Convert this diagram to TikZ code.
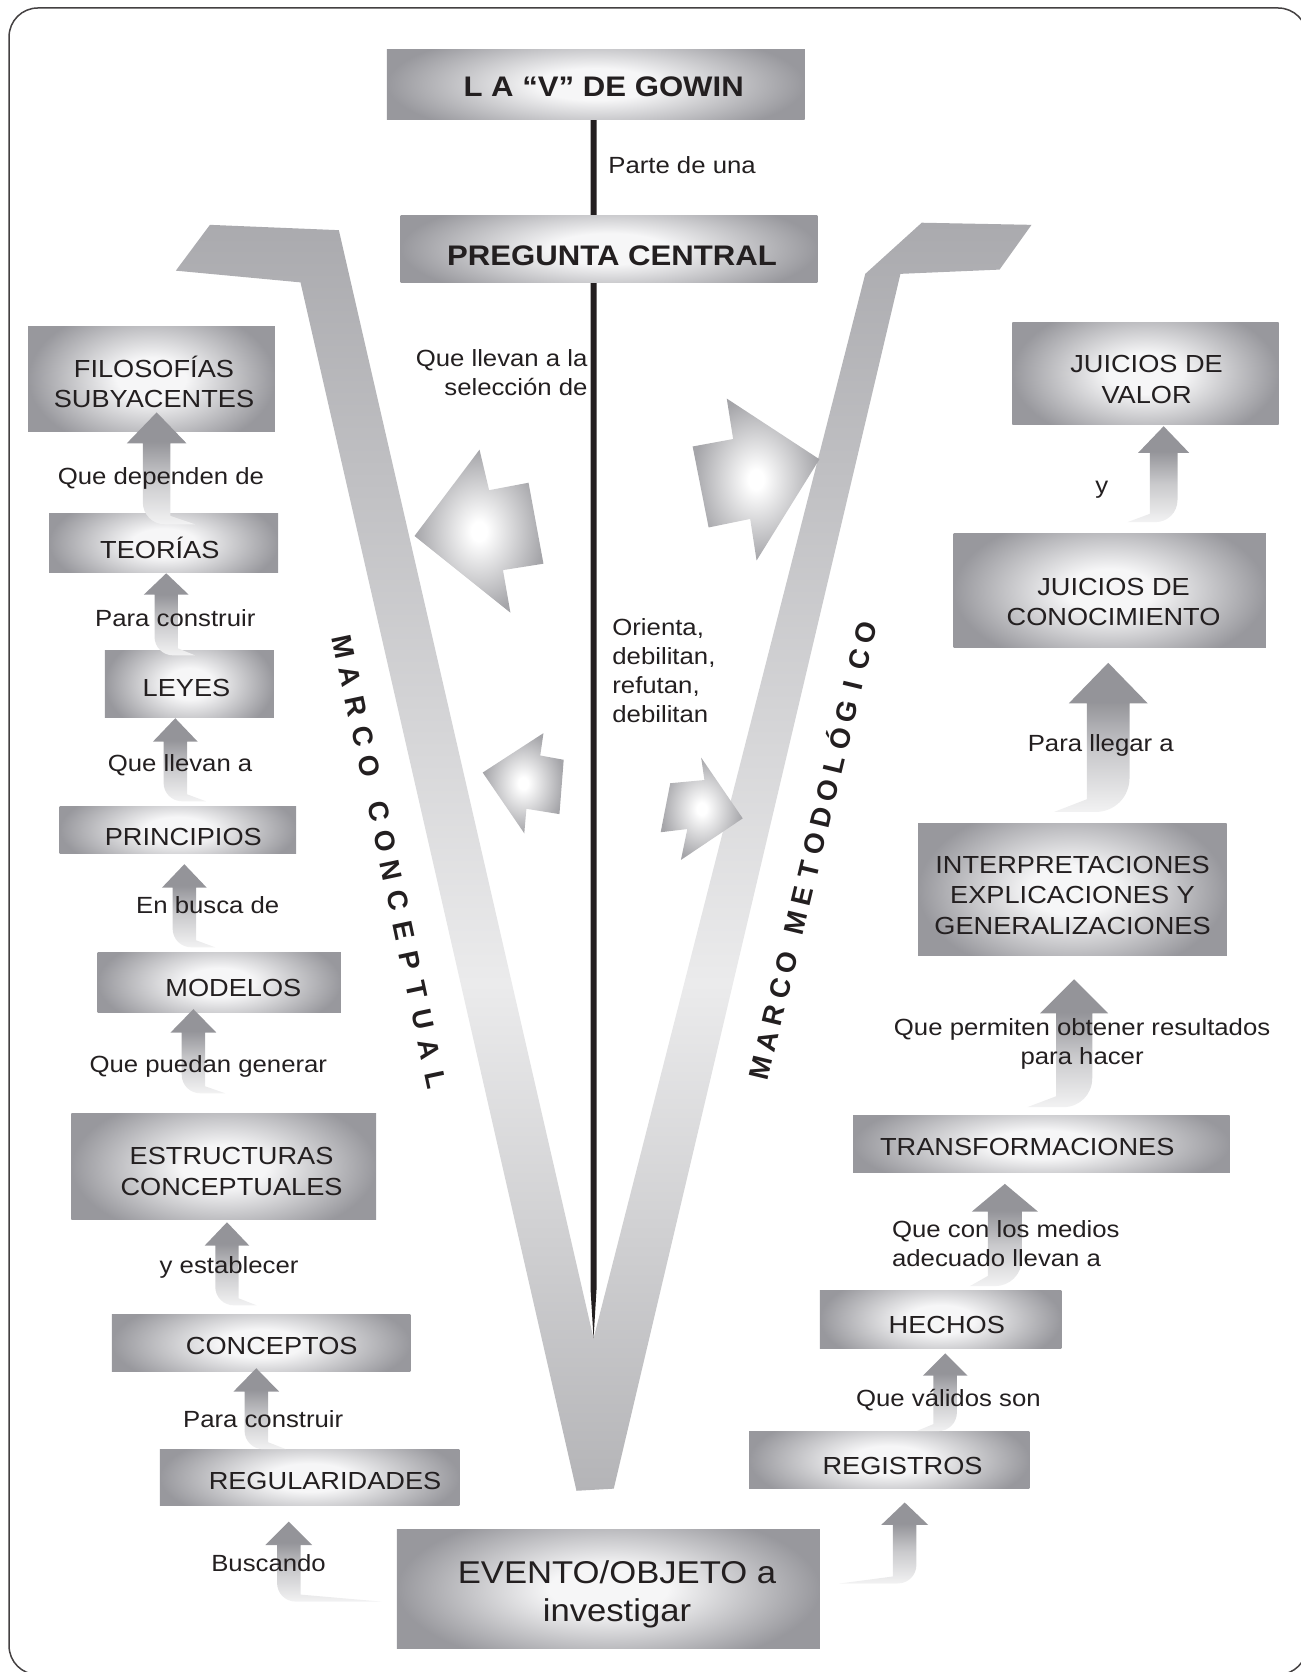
\documentclass[tikz,border=0pt]{standalone}
\usepackage{fontspec}
\setmainfont{Liberation Sans}[FakeStretch=1.1]
\newfontfamily\mfont{Liberation Sans}
\usetikzlibrary{calc}
\definecolor{ink}{RGB}{35,31,32}
\definecolor{boxgray}{RGB}{152,152,157}
\definecolor{boxlight}{RGB}{246,246,247}
\definecolor{arrgray}{RGB}{148,148,153}
\definecolor{vgray}{RGB}{170,170,174}
\definecolor{vgrayb}{RGB}{180,180,183}
\definecolor{vlight}{RGB}{235,235,236}
\definecolor{bigedge}{RGB}{165,165,169}
\pgfdeclareradialshading{boxshade}{\pgfpointorigin}{color(0bp)=(boxlight); color(7bp)=(boxlight); color(25bp)=(boxgray); color(50bp)=(boxgray)}
\pgfdeclareradialshading{bigshade}{\pgfpointorigin}{color(0bp)=(white); color(3bp)=(white); color(25bp)=(bigedge); color(50bp)=(bigedge)}
\pgfdeclareverticalshading{jshade}{100bp}{color(0bp)=(white); color(25bp)=(arrgray!12!white); color(45bp)=(arrgray!50!white); color(62bp)=(arrgray); color(100bp)=(arrgray)}
\pgfdeclareverticalshading{vshade}{100bp}{color(0bp)=(vgrayb); color(25bp)=(vgrayb); color(45bp)=(vlight); color(75bp)=(vgray); color(100bp)=(vgray)}
\newcommand\uu{1.0656pt}
\newcommand\mlc[1]{\begin{tabular}[t]{@{}c@{}}#1\end{tabular}}
\newcommand\mll[1]{\begin{tabular}[t]{@{}l@{}}#1\end{tabular}}
\newcommand\mlr[1]{\begin{tabular}[t]{@{}r@{}}#1\end{tabular}}
\tikzset{
 gbox/.style={inner sep=0pt, outer sep=0pt, fill=boxgray,
   path picture={\shade[shading=boxshade] ([yshift=-22pt]path picture bounding box.south west) rectangle ([yshift=22pt]path picture bounding box.north east);}},
 lbl/.style={font=\fontsize{23.4}{29}\selectfont, text=ink, inner sep=0pt, anchor=base},
 btx/.style={font=\fontsize{24.7}{30.5}\selectfont, text=ink, inner sep=0pt, anchor=base},
 ttl/.style={font=\fontsize{28.3}{34}\selectfont\bfseries, text=ink, inner sep=0pt, anchor=base},
 evt/.style={font=\fontsize{31.5}{38.8}\selectfont, text=ink, inner sep=0pt, anchor=base},
 marco/.style={font=\mfont\bfseries\fontsize{28}{28}\selectfont, text=ink, inner sep=0pt, text height=20pt, text depth=0pt},
}
\newcommand\gbox[5]{\node[gbox, minimum width={(#4-#2)*1.0656pt}, minimum height={(#5-#3)*1.0656pt}] (#1) at ({(#2+#4)/2},{(#3+#5)/2}) {};}
% J-shaped shaded arrow: #1 head coord, #2 tail coord, #3 dir, #4 head half width, #5 head length, #6 shaft half width, #7 tail length
\newcommand\jarr[7]{%
 \shade[shading=jshade] let \p1=(#1), \p2=(#2) in
  ({\x1},{\y1}) -- ({\x1+(#3)*#4*\uu},{\y1-#5*\uu}) -- ({\x1+(#3)*#6*\uu},{\y1-#5*\uu})
  -- ({\x1+(#3)*#6*\uu},{\y2+0.6*#6*\uu}) -- ({\x1+(#3)*#6*\uu+(#3)*#7*\uu},{\y2})
  -- ({\x1-(#3)*#6*\uu+(#3)*1.6*#6*\uu},{\y2})
  .. controls ({\x1-(#3)*#6*\uu+(#3)*0.7*#6*\uu},{\y2}) and ({\x1-(#3)*#6*\uu},{\y2+0.7*#6*\uu}) .. ({\x1-(#3)*#6*\uu},{\y2+1.6*#6*\uu})
  -- ({\x1-(#3)*#6*\uu},{\y1-#5*\uu}) -- ({\x1-(#3)*#4*\uu},{\y1-#5*\uu}) -- cycle;}
\begin{document}
\begin{tikzpicture}[x=1.0656pt,y=-1.0656pt]
\useasboundingbox (0,0) rectangle (1220.9,1569.07);
% frame
\draw[line width=1.5pt, ink!85, rounded corners=28.8pt] (8.5,7.5) rectangle (1226.5,1571.5);
% the V
\shade[shading=vshade] (165,254) -- (197,211) -- (318,216) -- (557,1256) -- (812,257) -- (865,209) -- (968,211) -- (938,253) -- (845,257) -- (576,1397) -- (541,1399) -- (282,265) -- cycle;
% central line
\fill[ink] (554.2,112) -- (559.8,112) -- (559.8,1210) -- (557,1256) -- (554.2,1210) -- cycle;
% big arrows inside the V
\shade[shading=bigshade] (389,503) -- (450,422) -- (459,460) -- (496,453) -- (510,529) -- (472,535) -- (479,575) -- cycle;
\shade[shading=bigshade] (682,374) -- (688,412) -- (650,419) -- (665,495) -- (704,487) -- (710,526) -- (769,431) -- cycle;
\shade[shading=bigshade] (453,725) -- (510,688) -- (507,709) -- (529,713) -- (525,764) -- (494,759) -- (492,782) -- cycle;
\shade[shading=bigshade] (658,711) -- (661,732) -- (629,735) -- (620,781) -- (645,778) -- (639,807) -- (697,768) -- cycle;
% boxes
\gbox{bTitle}{363}{46}{755}{112}
\gbox{bPreg}{376}{202}{767}{265}
\gbox{bFilo}{26.5}{306}{258}{404.5}
\gbox{bTeor}{46}{481.5}{261}{537.5}
\gbox{bLeyes}{98.5}{610}{257}{673}
\gbox{bPrinc}{56}{756.5}{278}{800.5}
\gbox{bModel}{91.5}{894}{320}{950}
\gbox{bEstr}{67}{1045}{353}{1144}
\gbox{bConc}{105}{1234}{385}{1287.5}
\gbox{bRegul}{150}{1360}{431}{1413}
\gbox{bEvento}{372.5}{1435}{769.5}{1547}
\gbox{bJV}{950}{303}{1200}{398}
\gbox{bJC}{895}{501}{1188}{608}
\gbox{bInterp}{861.5}{773}{1151}{897}
\gbox{bTransf}{800.6}{1047}{1154}{1100.5}
\gbox{bHechos}{769.5}{1210.6}{996}{1265.7}
\gbox{bRegis}{703}{1343}{966}{1397}
% arrow end points
\coordinate (hA1) at (147,387);   \coordinate (tA1) at (147,492);
\coordinate (hA2) at (156,538);   \coordinate (tA2) at (156,615);
\coordinate (hA3) at (164.5,674); \coordinate (tA3) at (164.5,752);
\coordinate (hA4) at (173,811);   \coordinate (tA4) at (173,889);
\coordinate (hA5) at (181.5,947); \coordinate (tA5) at (181.5,1026);
\coordinate (hA6) at (213,1147);  \coordinate (tA6) at (213,1225);
\coordinate (hA7) at (240.5,1284);\coordinate (tA7) at (240.5,1360);
\coordinate (hA8) at (271,1428);  \coordinate (tA8) at (271,1503);
\coordinate (hB1) at (1092,400);  \coordinate (tB1) at (1092,490);
\coordinate (hB2) at (1040,622);  \coordinate (tB2) at (1040,762);
\coordinate (hB3) at (1008,919);  \coordinate (tB3) at (1008,1039);
\coordinate (hB4) at (943,1111);  \coordinate (tB4) at (943,1207);
\coordinate (hB5) at (887,1270);  \coordinate (tB5) at (887,1343);
\coordinate (hB6) at (849,1410);  \coordinate (tB6) at (849,1486);
\jarr{hA1}{tA1}{1}{28}{29}{13}{23}
\jarr{hA2}{tA2}{1}{21}{20}{11}{16}
\jarr{hA3}{tA3}{1}{21}{22}{11}{18}
\jarr{hA4}{tA4}{1}{21}{22}{11}{18}
\jarr{hA5}{tA5}{1}{21.5}{22}{11}{19}
\jarr{hA6}{tA6}{1}{21}{22}{11}{17}
\jarr{hA7}{tA7}{1}{21.5}{22}{11}{17}
\jarr{hA8}{tA8}{1}{22}{22}{11}{76}
\jarr{hB1}{tB1}{-1}{24}{25}{13}{21}
\jarr{hB2}{tB2}{-1}{37}{38}{20}{31}
\jarr{hB3}{tB3}{-1}{32}{32}{17}{27}
\jarr{hB4}{tB4}{-1}{31}{26}{16}{17}
\jarr{hB5}{tB5}{-1}{21}{21}{11}{16}
\jarr{hB6}{tB6}{-1}{22}{21}{11}{50}
% box texts
\node[ttl] (tTitle) at (566.5,90.7) {L A “V” DE GOWIN};
\node[ttl] (tPreg) at (574.4,248.7) {PREGUNTA CENTRAL};
\node[btx] (tFilo) at (144.5,354) {\mlc{FILOSOFÍAS\\SUBYACENTES}};
\node[btx] (tTeor) at (150,524.5) {TEORÍAS};
\node[btx] (tLeyes) at (175,654) {LEYES};
\node[btx] (tPrinc) at (172,793) {PRINCIPIOS};
\node[btx] (tModel) at (219,935.5) {MODELOS};
\node[btx] (tEstr) at (217.3,1093) {\mlc{ESTRUCTURAS\\CONCEPTUALES}};
\node[btx] (tConc) at (255,1271) {CONCEPTOS};
\node[btx] (tRegul) at (305,1397.5) {REGULARIDADES};
\node[evt] (tEvento) at (579,1485.6) {\mlc{EVENTO/OBJETO a\\investigar}};
\node[btx] (tJV) at (1076,349.7) {\mlc{JUICIOS DE\\VALOR}};
\node[btx] (tJC) at (1045,558.4) {\mlc{JUICIOS DE\\CONOCIMIENTO}};
\node[btx] (tInterp) at (1006.5,819.6) {\mlc{INTERPRETACIONES\\EXPLICACIONES Y\\GENERALIZACIONES}};
\node[btx] (tTransf) at (964,1084.8) {TRANSFORMACIONES};
\node[btx] (tHechos) at (888.5,1251) {HECHOS};
\node[btx] (tRegis) at (847,1384) {REGISTROS};
% labels
\node[lbl, anchor=base west] (tParte) at (570.7,162.7) {Parte de una};
\node[lbl, anchor=base east] (c1) at (551.5,344) {\mlr{Que llevan a la\\selección de}};
\node[lbl, anchor=base west] (c2) at (574.5,596) {\mll{Orienta,\\debilitan,\\refutan,\\debilitan}};
\node[lbl] (l1) at (151,455) {Que dependen de};
\node[lbl] (l2) at (164.5,588) {Para construir};
\node[lbl] (l3) at (169,724) {Que llevan a};
\node[lbl] (l4) at (195,857) {En busca de};
\node[lbl] (l5) at (195.5,1006) {Que puedan generar};
\node[lbl] (l6) at (215,1195) {y establecer};
\node[lbl] (l7) at (247,1340) {Para construir};
\node[lbl] (l8) at (252,1475) {Buscando};
\node[lbl] (r1) at (1034,463) {y};
\node[lbl] (r2) at (1033,705.4) {Para llegar a};
\node[lbl] (r3) at (1015.5,971.3) {\mlc{Que permiten obtener resultados\\para hacer}};
\node[lbl, anchor=base west] (r4) at (837,1161) {\mll{Que con los medios\\adecuado llevan a}};
\node[lbl] (r5) at (890,1319.5) {Que válidos son};
% rotated frame titles
\foreach \ch/\t [count=\k] in {M/0,A/1,R/2,C/3,O/4,C/5.5,O/6.5,N/7.5,C/8.5,E/9.5,P/10.5,T/11.5,U/12.5,A/13.5,L/14.5}
  \node[marco, rotate=-78.04] (mc\k) at ($(323,607)!\t/14.5!(409,1013)$) {\ch};
\foreach \ch/\t [count=\k] in {M/0,A/1,R/2,C/3,O/4,M/5.5,E/6.5,T/7.5,O/8.5,D/9.5,O/10.5,L/11.5,Ó/12.5,G/13.5,I/14.5,C/15.5,O/16.5}
  \node[marco, rotate=76.5] (mm\k) at ($(714,1002)!\t/16.5!(812,594)$) {\ch};
\end{tikzpicture}
\end{document}
